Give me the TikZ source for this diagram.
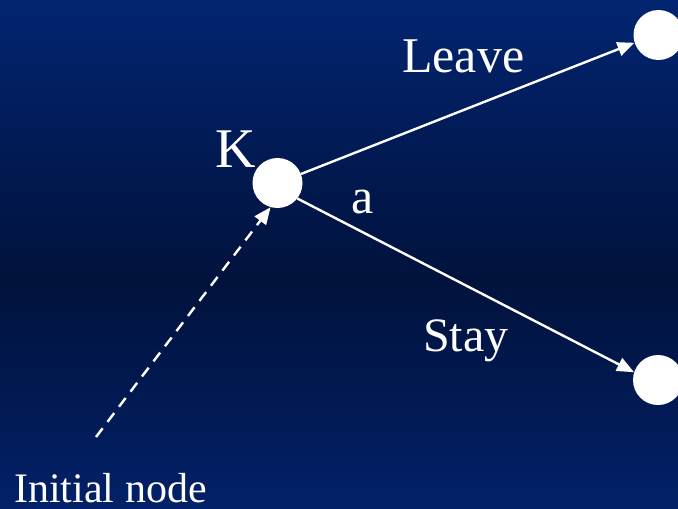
\documentclass[tikz,border=0pt]{standalone}
\usepackage{fontspec}
\setmainfont{Liberation Serif}
\usetikzlibrary{arrows.meta}
\definecolor{bgtop}{RGB}{2,36,112}
\definecolor{bgmid}{RGB}{1,18,60}
\definecolor{bgbot}{RGB}{2,33,104}
\begin{document}
\begin{tikzpicture}[x=1pt,y=-1pt,
  state/.style={circle,fill=white,draw=none,minimum size=50pt,inner sep=0pt},
  lbl/.style={text=white,anchor=base west,inner sep=0pt},
  arr/.style={draw=white,line width=2.4pt,-{Triangle[length=17pt,width=14pt]}},
  darr/.style={arr,dash pattern=on 11pt off 8pt}]
\useasboundingbox (0,0) rectangle (678,509);
\shade[top color=bgtop,bottom color=bgmid] (0,0) rectangle (678,281);
\shade[top color=bgmid,bottom color=bgbot] (0,280) rectangle (678,509);
\node[state] (K) at (277.5,183) {};
\node[state] (T) at (658.5,35) {};
\node[state] (B) at (658,380) {};
\coordinate (init) at (96,437);
\draw[arr] (K.21) -- (T.198);
\draw[arr] (K.-38) -- (B.162);
\draw[darr] (init) -- (K.254);
\node[lbl,font=\fontsize{56}{60}\selectfont] (kl) at (215,167) {K};
\node[lbl,font=\fontsize{50}{56}\selectfont] (al) at (351,213) {a};
\node[lbl,font=\fontsize{50}{56}\selectfont] (leave) at (402,72) {Leave};
\node[lbl,font=\fontsize{48}{54}\selectfont] (stay) at (423,351) {Stay};
\node[lbl,font=\fontsize{42}{48}\selectfont] (initl) at (14,502) {Initial node};
\end{tikzpicture}
\end{document}
